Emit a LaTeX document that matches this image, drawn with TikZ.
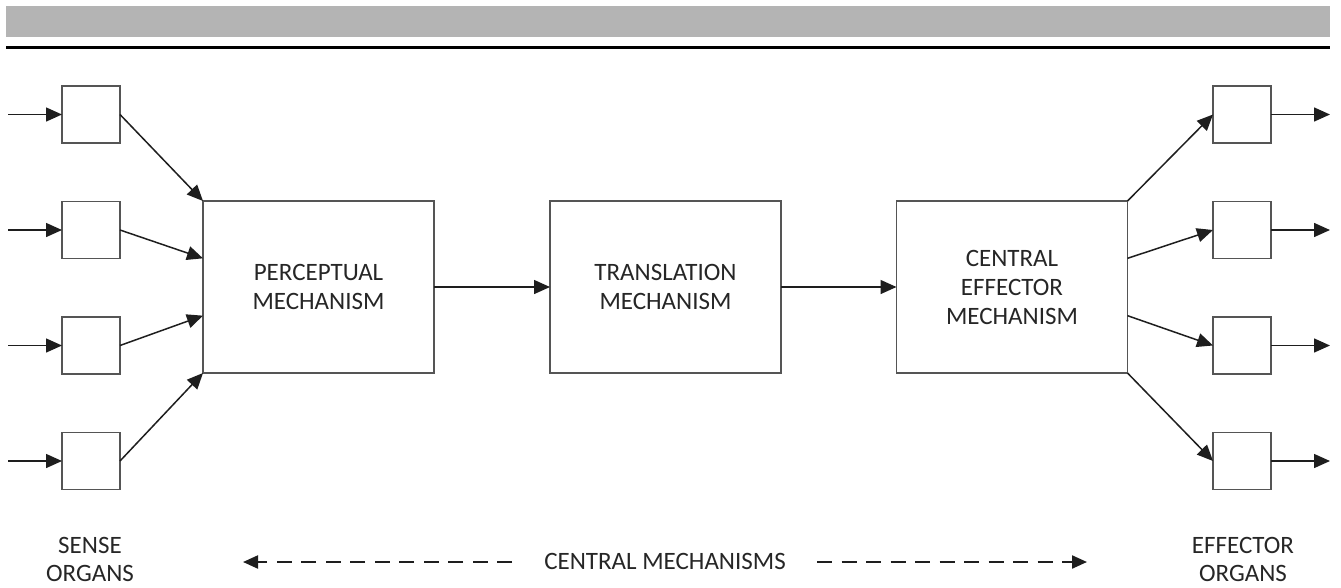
\documentclass[tikz,border=0pt]{standalone}
\usepackage{fontspec}
\setmainfont{Carlito}
\usetikzlibrary{arrows.meta,calc}
\definecolor{barfill}{HTML}{B4B4B4}
\definecolor{boxline}{HTML}{555555}
\definecolor{arrowline}{HTML}{1E1E1E}
\definecolor{labeltext}{HTML}{262626}
\begin{document}
\begin{tikzpicture}[x=1pt,y=-1pt,
  organ/.style={draw=boxline,line width=1.7pt,fill=white,minimum width=58pt,minimum height=57pt,inner sep=0pt,outer sep=0pt},
  mech/.style={draw=boxline,line width=1.7pt,fill=white,minimum width=231pt,minimum height=172pt,inner sep=0pt,outer sep=0pt,
    align=center,text=labeltext,font=\fontsize{25}{29}\selectfont},
  flow/.style={draw=arrowline,line width=1.5pt,-{Triangle[length=16pt,width=14pt]}},
  span/.style={draw=arrowline,line width=2.2pt,dash pattern=on 15pt off 9.5pt,-{Triangle[length=15pt,width=13pt]}},
  caption/.style={align=center,text=labeltext,font=\fontsize{25}{28}\selectfont,inner sep=0pt}]
\useasboundingbox (0,0) rectangle (1341,587);

% header band and rule
\fill[barfill] (6,6) rectangle (1330,37);
\fill[black] (6,46) rectangle (1330,49);

% sense organs
\foreach \i/\y in {1/114.5,2/230,3/345.5,4/461}{
  \node[organ] (s\i) at (91,\y) {};
  \coordinate (in\i) at (8,\y);
  \draw[flow] (in\i) -- (s\i.west);
}

% effector organs
\foreach \i/\y in {1/114.5,2/230,3/345.5,4/461}{
  \node[organ] (e\i) at (1242,\y) {};
  \coordinate (out\i) at (1330,\y);
  \draw[flow] (e\i.east) -- (out\i);
}

% central mechanisms
\node[mech] (per) at (318.5,287) {PERCEPTUAL\\MECHANISM};
\node[mech] (tra) at (665.5,287) {TRANSLATION\\MECHANISM};
\node[mech] (eff) at (1012,287) {CENTRAL\\EFFECTOR\\MECHANISM};

% sense organs into the perceptual mechanism
\foreach \i/\k in {1/0,2/1,3/2,4/3}{
  \draw[flow] (s\i.east) -- ($(per.north west)!\k/3!(per.south west)$);
}

% chain through the central mechanisms
\draw[flow] (per.east) -- (tra.west);
\draw[flow] (tra.east) -- (eff.west);

% effector mechanism out to the effector organs
\foreach \i/\k in {1/0,2/1,3/2,4/3}{
  \draw[flow] ($(eff.north east)!\k/3!(eff.south east)$) -- (e\i.west);
}

% bottom captions
\node[caption,anchor=base] (sense) at (90,581) {SENSE\\ORGANS};
\node[caption,anchor=base] (central) at (665,569) {CENTRAL MECHANISMS};
\node[caption,anchor=base] (effo) at (1243,581) {EFFECTOR\\ORGANS};

\coordinate (lt) at (243,562);
\coordinate (ls) at (512,562);
\coordinate (rs) at (817,562);
\coordinate (rt) at (1087,562);
\draw[span] (ls) -- (lt);
\draw[span] (rs) -- (rt);
\end{tikzpicture}
\end{document}
